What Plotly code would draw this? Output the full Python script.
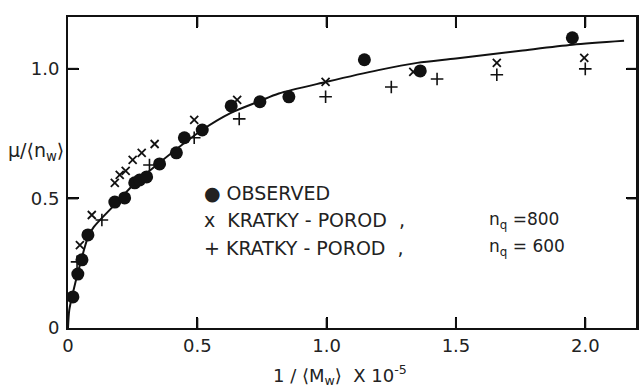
import plotly.graph_objects as go

# Observed data
obs_x = [0.019, 0.038, 0.054, 0.077, 0.181, 0.219, 0.258, 0.277, 0.304, 0.354,
         0.419, 0.450, 0.519, 0.631, 0.742, 0.854, 1.146, 1.362, 1.950]
obs_y = [0.120, 0.208, 0.263, 0.359, 0.486, 0.502, 0.560, 0.571, 0.583, 0.633,
         0.676, 0.734, 0.764, 0.857, 0.873, 0.892, 1.035, 0.992, 1.120]

# Kratky-Porod, n_q = 800
kp800_x = [0.046, 0.092, 0.181, 0.200, 0.223, 0.250, 0.285, 0.335, 0.488, 0.654,
           0.996, 1.335, 1.658, 1.996]
kp800_y = [0.320, 0.436, 0.560, 0.591, 0.606, 0.649, 0.676, 0.710, 0.803, 0.880,
           0.950, 0.988, 1.023, 1.042]

# Kratky-Porod, n_q = 600
kp600_x = [0.035, 0.131, 0.315, 0.488, 0.662, 0.996, 1.250, 1.427, 1.658, 2.000]
kp600_y = [0.255, 0.417, 0.629, 0.734, 0.807, 0.892, 0.930, 0.961, 0.977, 1.000]

# Smooth curve
curve_x = [0.0, 0.005, 0.02, 0.04, 0.077, 0.10, 0.18, 0.25, 0.35, 0.52, 0.63,
           0.74, 0.815, 1.0, 1.2, 1.35, 1.5, 1.75, 1.95, 2.15]
curve_y = [0.0, 0.07, 0.14, 0.22, 0.35, 0.39, 0.475, 0.55, 0.635, 0.765, 0.83,
           0.875, 0.905, 0.95, 0.995, 1.023, 1.04, 1.07, 1.093, 1.108]

x_ticks = [0, 0.5, 1.0, 1.5, 2.0]
x_ticklabels = ["0", "0.5", "1.0", "1.5", "2.0"]
y_ticks = [0, 0.5, 1.0]
y_ticklabels = ["0", "0.5", "1.0"]

INK = "#111111"
TXT = "#222222"
FONT = "DejaVu Sans"

fig = go.Figure()
fig.add_trace(go.Scatter(x=curve_x, y=curve_y, mode="lines",
                         line=dict(color=INK, width=2, shape="spline", smoothing=0.8),
                         showlegend=False))
fig.add_trace(go.Scatter(x=kp800_x, y=kp800_y, mode="markers",
                         marker=dict(symbol="x-thin", size=8, line=dict(color=INK, width=1.8)),
                         showlegend=False))
fig.add_trace(go.Scatter(x=kp600_x, y=kp600_y, mode="markers",
                         marker=dict(symbol="cross-thin", size=9, line=dict(color=INK, width=1.6)),
                         showlegend=False))
fig.add_trace(go.Scatter(x=obs_x, y=obs_y, mode="markers",
                         marker=dict(symbol="circle", size=13, color=INK),
                         showlegend=False))

axis_common = dict(showgrid=False, zeroline=False, showline=True, linecolor=INK,
                   linewidth=2, mirror="allticks", ticks="inside", ticklen=11,
                   tickwidth=2, tickcolor="#000000",
                   tickfont=dict(family=FONT, size=18, color=TXT))
fig.update_xaxes(range=[0, 2.2], tickvals=x_ticks, ticktext=x_ticklabels, **axis_common)
fig.update_yaxes(range=[0, 1.2], tickvals=y_ticks, ticktext=y_ticklabels,
                 ticklabelstandoff=3, **axis_common)

# Explicit inside tick marks on all four sides and the right frame edge,
# placed at the tick values through the axes.
tick_line = dict(color=INK, width=2)
for tv in x_ticks[1:]:
    fig.add_shape(type="line", xref="x", yref="paper", ysizemode="pixel", yanchor=0,
                  x0=tv, x1=tv, y0=0, y1=10, line=tick_line)
    fig.add_shape(type="line", xref="x", yref="paper", ysizemode="pixel", yanchor=1,
                  x0=tv, x1=tv, y0=0, y1=-10, line=tick_line)
for tv in y_ticks[1:]:
    fig.add_shape(type="line", xref="paper", yref="y", xsizemode="pixel", xanchor=0,
                  x0=0, x1=10, y0=tv, y1=tv, line=tick_line)
    fig.add_shape(type="line", xref="paper", yref="y", xsizemode="pixel", xanchor=1,
                  x0=0, x1=-10, y0=tv, y1=tv, line=tick_line)
fig.add_shape(type="line", xref="paper", yref="paper", x0=1, x1=1, y0=0, y1=1,
              line=dict(color=INK, width=2))

ann_font = dict(family=FONT, size=18, color=TXT)
leg_font = dict(family=FONT, size=19, color=TXT)
nq_font = dict(family=FONT, size=17, color=TXT)


def c(s):
    return f"<span style='color:{TXT}'>{s}</span>"


annotations = [
    dict(x=0.0, y=0.566, xref="paper", yref="paper",
         text="μ/⟨n" + "<sub>" + c("w") + "</sub>" + "⟩",
         showarrow=False, font=dict(family=FONT, size=19, color=TXT),
         xanchor="right", yanchor="middle", xshift=-2),
    dict(x=0.478, y=0.0, xref="paper", yref="paper",
         text="1 / ⟨M" + "<sub>" + c("w") + "</sub>" + "⟩  X 10" + "<sup>" + c("-5") + "</sup>",
         showarrow=False, font=ann_font, yanchor="middle", yshift=-47),
    dict(x=0.52, y=0.522, xref="x", yref="y", text="● OBSERVED", showarrow=False,
         font=leg_font, xanchor="left"),
    dict(x=0.52, y=0.415, xref="x", yref="y", text="x  KRATKY - POROD  ,", showarrow=False,
         font=leg_font, xanchor="left"),
    dict(x=0.52, y=0.31, xref="x", yref="y", text="+ KRATKY - POROD  ,", showarrow=False,
         font=leg_font, xanchor="left"),
    dict(x=1.62, y=0.415, xref="x", yref="y", text="n" + "<sub>" + c("q") + "</sub>" + " =800",
         showarrow=False, font=nq_font, xanchor="left"),
    dict(x=1.62, y=0.31, xref="x", yref="y", text="n" + "<sub>" + c("q") + "</sub>" + " = 600",
         showarrow=False, font=nq_font, xanchor="left"),
]

fig.update_layout(width=642, height=387, margin=dict(l=68, r=3, t=17, b=59),
                  plot_bgcolor="white", paper_bgcolor="white",
                  annotations=annotations, font=dict(family=FONT, color=TXT))

# Remove the default page margin and scrollbars so the figure fills the window.
fig.write_html("out.html",
               config={"displayModeBar": False},
               post_script="document.body.style.margin='0';"
                           "document.body.style.overflow='hidden';")
